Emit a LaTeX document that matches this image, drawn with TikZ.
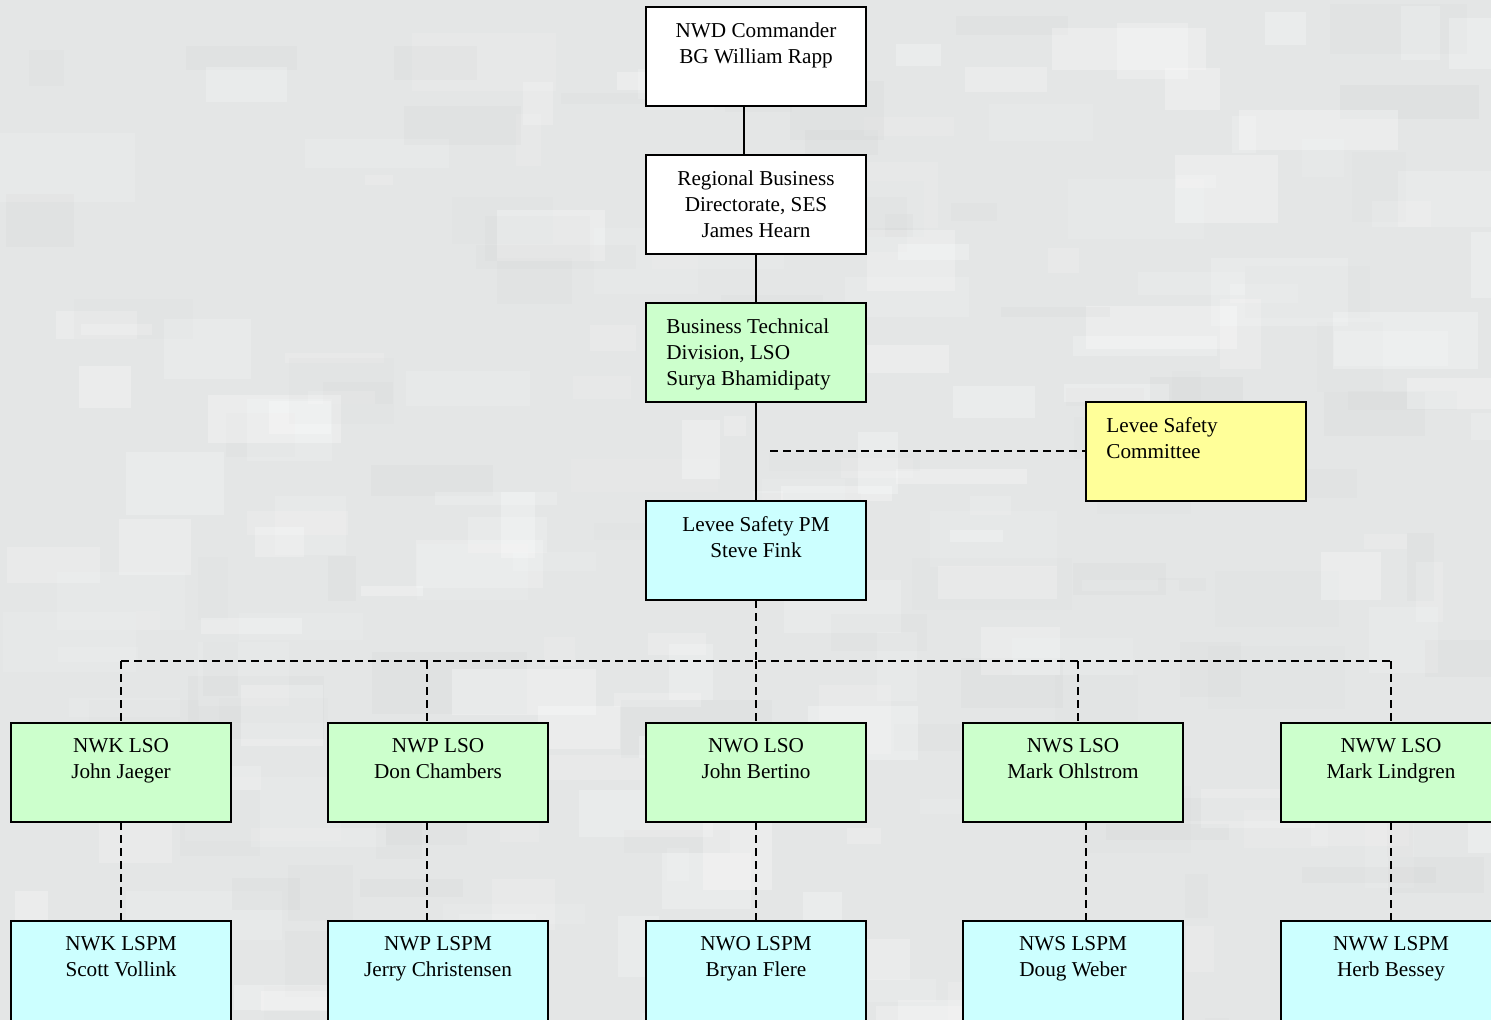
\documentclass[tikz,border=0pt]{standalone}
\usepackage{fontspec}
\setmainfont{Liberation Serif}
\definecolor{bg}{RGB}{228,230,230}
\definecolor{grn}{RGB}{204,255,204}
\definecolor{cyn}{RGB}{204,255,255}
\definecolor{yel}{RGB}{255,255,153}
\tikzset{
  box/.style={draw=black,line width=1pt,rectangle,minimum width=110pt,minimum height=49.5pt,inner sep=0pt,outer sep=0pt,anchor=north west},
  tallbox/.style={minimum height=56pt},
  txtc/.style={inner sep=0pt,align=center,anchor=north,font=\fontsize{10.6}{13}\selectfont},
  txtl/.style={inner sep=0pt,align=left,anchor=north west,font=\fontsize{10.6}{13}\selectfont},
  conn/.style={line width=1pt},
  dconn/.style={line width=1pt,dash pattern=on 4pt off 2.5pt},
}
\newcommand\cbox[5]{% name, left, top, fill, text
  \node[box,fill=#4] (#1) at (#2,#3) {};
  \node[txtc] (#1t) at ([yshift=-7.5pt]#1.north) {#5};
}
\newcommand\tbox[5]{% tall box cut by the bottom edge
  \node[box,tallbox,fill=#4] (#1) at (#2,#3) {};
  \node[txtc] (#1t) at ([yshift=-7.5pt]#1.north) {#5};
}
\newcommand\lbox[5]{%
  \node[box,fill=#4] (#1) at (#2,#3) {};
  \node[txtl] (#1t) at ([xshift=10pt,yshift=-7.5pt]#1.north west) {#5};
}
\begin{document}
\begin{tikzpicture}[x=0.5pt,y=-0.5pt]
\useasboundingbox (0,0) rectangle (1491,1020);
\clip (0,0) rectangle (1491,1020);
\fill[bg] (0,0) rectangle (1491,1020);
\pgfmathsetseed{7}
\foreach \i in {1,...,260}{
  \pgfmathsetmacro\rx{rnd*1491}
  \pgfmathsetmacro\ry{rnd*1020}
  \pgfmathsetmacro\rw{20+rnd*140}
  \pgfmathsetmacro\rh{10+rnd*60}
  \pgfmathsetmacro\op{0.08+rnd*0.2}
  \pgfmathparse{rnd>0.4?1:0}
  \ifnum\pgfmathresult=1
    \fill[white,opacity=\op] (\rx,\ry) rectangle ++(\rw,\rh);
  \else
    \fill[gray,opacity=\op*0.15] (\rx,\ry) rectangle ++(\rw,\rh);
  \fi
}
% boxes
\cbox{cmd}{646}{7}{white}{NWD Commander\\BG William Rapp}
\cbox{rbd}{646}{155}{white}{Regional Business\\Directorate, SES\\James Hearn}
\lbox{btd}{646}{303}{grn}{Business Technical\\Division, LSO\\Surya Bhamidipaty}
\lbox{lsc}{1086}{402}{yel}{Levee Safety\\Committee}
\cbox{pm}{646}{501}{cyn}{Levee Safety PM\\Steve Fink}
\cbox{nwk}{11}{723}{grn}{NWK LSO\\John Jaeger}
\cbox{nwp}{328}{723}{grn}{NWP LSO\\Don Chambers}
\cbox{nwo}{646}{723}{grn}{NWO LSO\\John Bertino}
\cbox{nws}{963}{723}{grn}{NWS LSO\\Mark Ohlstrom}
\cbox{nww}{1281}{723}{grn}{NWW LSO\\Mark Lindgren}
\tbox{nwkp}{11}{921}{cyn}{NWK LSPM\\Scott Vollink}
\tbox{nwpp}{328}{921}{cyn}{NWP LSPM\\Jerry Christensen}
\tbox{nwop}{646}{921}{cyn}{NWO LSPM\\Bryan Flere}
\tbox{nwsp}{963}{921}{cyn}{NWS LSPM\\Doug Weber}
\tbox{nwwp}{1281}{921}{cyn}{NWW LSPM\\Herb Bessey}
% connectors
\draw[conn] ([xshift=-6pt]cmd.south) -- ([xshift=-6pt]rbd.north);
\draw[conn] (rbd.south) -- (btd.north);
\draw[conn] (btd.south) -- (pm.north);
\coordinate (cj) at (770,451);
\draw[dconn] (cj) -- (lsc.west |- cj);
\coordinate (bus) at (756,661);
\coordinate (busL) at (121,661);
\coordinate (busR) at (1391,661);
\draw[dconn] (pm.south) -- (pm.south |- bus);
\draw[dconn] (busL) -- (busR);
\draw[dconn] (busL) -- (nwk.north -| busL);
\coordinate (b2) at (427,661);
\draw[dconn] (b2) -- (nwp.north -| b2);
\draw[dconn] (pm.south |- bus) -- (nwo.north);
\coordinate (b4) at (1078,661);
\draw[dconn] (b4) -- (nws.north -| b4);
\draw[dconn] (busR) -- (nww.north -| busR);
\draw[dconn] (nwk.south) -- (nwkp.north);
\draw[dconn] ([xshift=-5.5pt]nwp.south) -- ([xshift=-5.5pt]nwpp.north);
\draw[dconn] (nwo.south) -- (nwop.north);
\draw[dconn] ([xshift=6.5pt]nws.south) -- ([xshift=6.5pt]nwsp.north);
\draw[dconn] (nww.south) -- (nwwp.north);
\end{tikzpicture}
\end{document}
